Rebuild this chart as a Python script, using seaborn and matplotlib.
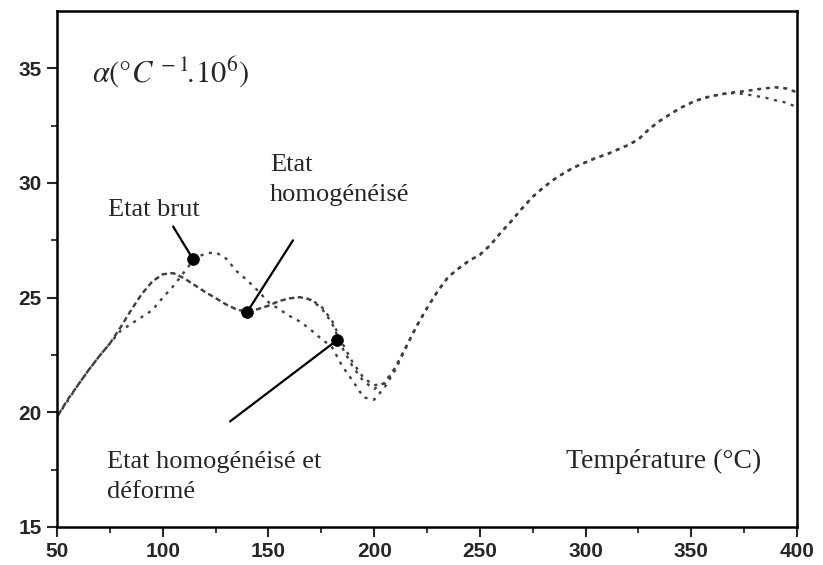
import numpy as np
import pandas as pd
import matplotlib
matplotlib.use("Agg")
import matplotlib.pyplot as plt
import seaborn as sns

# Temperatures (°C) en abscisse
temperature = [50, 55, 60, 65, 70, 75, 80, 85, 90, 95, 100, 105, 110, 115, 120, 125,
               130, 135, 140, 145, 150, 155, 160, 165, 170, 175, 180, 185, 190, 195,
               200, 205, 210, 215, 220, 225, 230, 235, 240, 245, 250, 255, 260, 265,
               270, 275, 280, 285, 290, 295, 300, 305, 310, 315, 320, 325, 330, 335,
               340, 345, 350, 355, 360, 365, 370, 375, 380, 385, 390, 395, 400]

# Coefficient de dilatation
alpha_brut = [19.8, 20.5, 21.2, 21.85, 22.45, 23.0, 23.55, 23.85, 24.15, 24.45, 25.0, 25.5,
              26.1, 26.7, 26.92, 26.98, 26.7, 26.15, 25.75, 25.3, 24.8, 24.5, 24.2, 23.95,
              23.6, 23.2, 22.85, 22.0, 21.35, 20.65, 20.55, 21.1, 21.85, 22.8, 23.75, 24.55,
              25.28, 25.9, 26.28, 26.62, 26.87, 27.3, 27.85, 28.35, 28.9, 29.4, 29.8, 30.15,
              30.45, 30.7, 30.9, 31.1, 31.25, 31.45, 31.65, 31.9, 32.35, 32.7, 33.0, 33.28,
              33.5, 33.68, 33.8, 33.88, 33.92, 33.88, 33.8, 33.72, 33.6, 33.5, 33.3]

alpha_homog = [19.8, 20.55, 21.2, 21.85, 22.45, 23.0, 23.7, 24.45, 25.15, 25.7, 26.02, 26.07,
               25.85, 25.55, 25.25, 24.98, 24.7, 24.48, 24.38, 24.5, 24.65, 24.85, 24.97, 25.02,
               24.9, 24.55, 23.9, 22.8, 21.97, 21.35, 21.02, 21.3, 21.95, 22.85, 23.75, 24.55,
               25.28, 25.9, 26.28, 26.62, 26.87, 27.3, 27.85, 28.35, 28.9, 29.4, 29.8, 30.15,
               30.45, 30.7, 30.9, 31.1, 31.25, 31.45, 31.65, 31.9, 32.35, 32.7, 33.0, 33.28,
               33.5, 33.68, 33.8, 33.88, 33.95, 34.0, 34.07, 34.13, 34.17, 34.12, 33.95]

alpha_deforme = [19.8, 20.55, 21.2, 21.85, 22.45, 23.0, 23.7, 24.45, 25.15, 25.7, 26.02, 26.07,
                 25.85, 25.55, 25.25, 24.98, 24.7, 24.48, 24.38, 24.5, 24.65, 24.85, 24.97, 25.02,
                 24.92, 24.62, 24.0, 23.0, 22.15, 21.5, 21.18, 21.25, 21.95, 22.85, 23.75, 24.55,
                 25.28, 25.9, 26.28, 26.62, 26.87, 27.3, 27.85, 28.35, 28.9, 29.4, 29.8, 30.15,
                 30.45, 30.7, 30.9, 31.1, 31.25, 31.45, 31.65, 31.9, 32.35, 32.7, 33.0, 33.28,
                 33.5, 33.68, 33.8, 33.88, 33.95, 34.0, 34.07, 34.13, 34.17, 34.12, 33.95]

# Points repérés et départ des traits d'annotation
dot_x = [114.3, 139.9, 182.5]
dot_y = [26.68, 24.37, 23.15]
trait_x = [104.9, 161.6, 131.8]
trait_y = [28.1, 27.5, 19.6]

fig = plt.figure(figsize=(8.23, 5.65), dpi=100)
sns.set_style("white")
plt.rcParams["mathtext.fontset"] = "stix"
ax = fig.add_axes([0.0693, 0.0673, 0.8992, 0.9133])

# Courbes pointillées (décalage des tirets pour l'effet de superposition)
sns.lineplot(x=temperature, y=alpha_brut, ax=ax, color="#404040", lw=1.7,
             linestyle=(0, (1.3, 2.4)))
sns.lineplot(x=temperature, y=alpha_homog, ax=ax, color="#404040", lw=1.7,
             linestyle=(1.6, (1.3, 2.4)))
sns.lineplot(x=temperature, y=alpha_deforme, ax=ax, color="#404040", lw=1.7,
             linestyle=(2.6, (1.3, 2.4)))

# Traits + points
for tx, ty, dx, dy in zip(trait_x, trait_y, dot_x, dot_y):
    ax.plot([tx, dx], [ty, dy], color="black", lw=1.6)
sns.scatterplot(x=dot_x, y=dot_y, ax=ax, color="black", s=70, zorder=5, edgecolor="black")

ax.set_xlim(50, 400)
ax.set_ylim(15, 37.5)
ax.set_xticks([50, 100, 150, 200, 250, 300, 350, 400])
ax.set_xticks([75, 125, 175, 225, 275, 325, 375], minor=True)
ax.set_yticks([15, 20, 25, 30, 35])
ax.set_yticks([17.5, 22.5, 27.5, 32.5], minor=True)
ax.tick_params(axis="both", which="major", direction="out", length=7, width=1.5,
               pad=4, labelsize=15, bottom=True, left=True)
ax.tick_params(axis="both", which="minor", direction="out", length=4, width=1.3,
               bottom=True, left=True)
for lab in ax.get_xticklabels() + ax.get_yticklabels():
    lab.set_fontfamily("Liberation Sans")
    lab.set_fontweight("bold")

for s in ax.spines.values():
    s.set_visible(True)
    s.set_color("black")
    s.set_linewidth(1.8)

serif = "Liberation Serif"
ax.text(74.3, 28.55, "Etat brut", fontsize=19, family=serif, ha="left", va="baseline")
ax.text(150.8, 31.25, "Etat\nhomogénéisé", fontsize=19, family=serif, ha="left",
        va="top", linespacing=1.45)
ax.text(73.8, 18.3, "Etat homogénéisé et\ndéformé", fontsize=19, family=serif, ha="left",
        va="top", linespacing=1.45)
ax.text(290.5, 17.85, "Température (°C)", fontsize=20, family=serif, ha="left", va="center")
ax.text(66.5, 34.85, r"$\alpha(\degree C^{\,-1}\!.\!10^{6})$", fontsize=22, ha="left",
        va="center")

ax.set_xlabel("")
ax.set_ylabel("")
fig.savefig("out.png", dpi=100)
